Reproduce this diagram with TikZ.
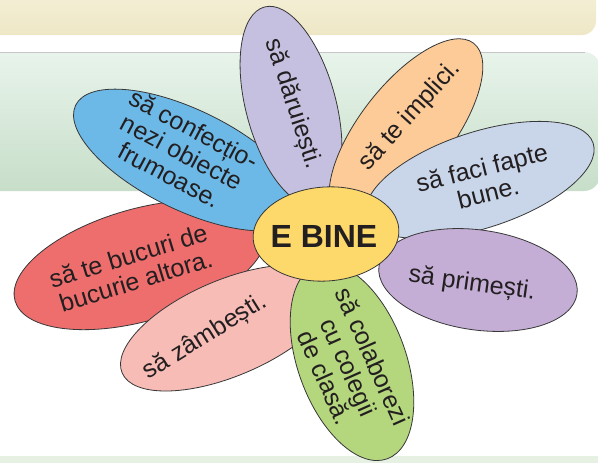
\documentclass[tikz,border=0pt]{standalone}
\usepackage{fontspec}
\setmainfont{Liberation Sans}
\usetikzlibrary{shapes.geometric}
\definecolor{creamT}{RGB}{246,241,219}
\definecolor{creamB}{RGB}{238,231,198}
\definecolor{panelT}{RGB}{232,244,235}
\definecolor{panelB}{RGB}{199,222,201}
\definecolor{stripC}{RGB}{230,241,227}
\definecolor{outl}{RGB}{55,55,55}
\definecolor{txt}{RGB}{35,31,32}
\definecolor{cLav}{RGB}{197,192,224}
\definecolor{cOrange}{RGB}{252,203,152}
\definecolor{cLBlue}{RGB}{201,214,234}
\definecolor{cPurple}{RGB}{196,174,214}
\definecolor{cGreen}{RGB}{180,214,125}
\definecolor{cPink}{RGB}{247,188,182}
\definecolor{cRed}{RGB}{238,110,110}
\definecolor{cBlue}{RGB}{108,185,232}
\definecolor{cYellow}{RGB}{253,216,106}
\begin{document}
\begin{tikzpicture}[x=1pt,y=-1pt,
  petal/.style={ellipse, draw=outl, line width=0.8pt, inner sep=0pt},
  ptext/.style={font=\fontsize{25}{26}\selectfont, text=txt, align=center, inner sep=0pt},
]
\useasboundingbox (0,0) rectangle (598,463);
\clip (0,0) rectangle (598,463);
% background
\fill[white] (0,0) rectangle (598,463);
\shade[top color=creamT, bottom color=creamB, rounded corners=14pt] (-20,-20) rectangle (596,35);
\shade[top color=panelT, bottom color=panelB, rounded corners=16pt] (-20,52) rectangle (600,191);
\draw[gray!45, line width=1pt] (0,52) -- (585,52);
\fill[stripC] (0,456) rectangle (598,470);
% petals
\node[petal, fill=cRed, minimum width=260pt, minimum height=112pt, rotate=16] (pred) at (140,265) {};
\node[petal, fill=cPink, minimum width=230pt, minimum height=96pt, rotate=23] (ppink) at (228,328) {};
\node[petal, fill=cBlue, minimum width=250pt, minimum height=100pt, rotate=-26] (pblue) at (188,160) {};
\node[petal, fill=cLav, minimum width=205pt, minimum height=90pt, rotate=-75] (plav) at (291,106) {};
\node[petal, fill=cOrange, minimum width=220pt, minimum height=92pt, rotate=52] (porange) at (406,130) {};
\node[petal, fill=cLBlue, minimum width=238pt, minimum height=96pt, rotate=18] (plblue) at (480,180) {};
\node[petal, fill=cPurple, minimum width=200pt, minimum height=100pt, rotate=-8] (ppurple) at (478,280) {};
\node[petal, fill=cGreen, minimum width=206pt, minimum height=108pt, rotate=-70] (pgreen) at (352,362) {};
% centre
\node[petal, fill=cYellow, minimum width=146pt, minimum height=94pt, rotate=4] (center) at (326,234) {};
\node[font=\bfseries\fontsize{32}{34}\selectfont, text=txt, inner sep=0pt] (ebine) at (324,236) {E BINE};
% texts
\node[ptext, rotate=-72] (tlav) at (293,104) {să dăruiești.};
\node[ptext, rotate=48] (torange) at (410,116) {să te implici.};
\node[ptext, rotate=14] (tlblue) at (485,180) {să faci fapte\\bune.};
\node[ptext, rotate=-8] (tpurple) at (472,284) {să primești.};
\node[ptext, rotate=-66] (tgreen) at (349,367) {să colaborezi\\cu colegii\\de clasă.};
\node[ptext, rotate=32] (tpink) at (205,337) {să zâmbești.};
\node[ptext, rotate=17] (tred) at (132,268) {să te bucuri de\\bucurie altora.};
\node[ptext, rotate=-28] (tblue) at (182,152) {să confecțio-\\nezi obiecte\\frumoase.};
\end{tikzpicture}
\end{document}
